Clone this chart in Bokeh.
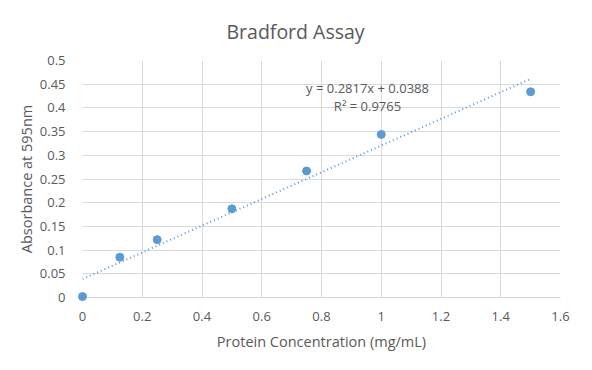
from bokeh.plotting import figure
from bokeh.models import FixedTicker, Range1d, Label, Title
from bokeh.embed import file_html
from bokeh.resources import INLINE

conc = [0, 0.125, 0.25, 0.5, 0.75, 1.0, 1.5]
absorb = [0.002, 0.085, 0.122, 0.187, 0.267, 0.344, 0.434]
slope = 0.2817
intercept = 0.0388
r2 = 0.9765
x_ticks = [0, 0.2, 0.4, 0.6, 0.8, 1.0, 1.2, 1.4, 1.6]
x_labels = ["0", "0.2", "0.4", "0.6", "0.8", "1", "1.2", "1.4", "1.6"]
y_ticks = [0, 0.05, 0.1, 0.15, 0.2, 0.25, 0.3, 0.35, 0.4, 0.45, 0.5]
y_labels = ["0", "0.05", "0.1", "0.15", "0.2", "0.25", "0.3", "0.35", "0.4", "0.45", "0.5"]
title = "Bradford Assay"

FONT = "Open Sans"
GREY = "#595959"
BLUE = "#5B9BD5"

p = figure(width=584, height=362, output_backend="svg", toolbar_location=None,
           x_range=Range1d(0, 1.6), y_range=Range1d(0, 0.5),
           min_border_left=82, min_border_right=24, min_border_top=60, min_border_bottom=65)
p.outline_line_color = None

p.add_layout(Title(text=title, align="left", text_font=FONT, text_font_size="19.5px",
                   text_color=GREY, text_font_style="normal", offset=144, standoff=31), "above")

p.xaxis.ticker = FixedTicker(ticks=x_ticks)
p.yaxis.ticker = FixedTicker(ticks=y_ticks)
p.xaxis.major_label_overrides = {t: l for t, l in zip(x_ticks, x_labels)}
p.yaxis.major_label_overrides = {t: l for t, l in zip(y_ticks, y_labels)}
for ax in (p.xaxis, p.yaxis):
    ax.major_tick_line_color = None
    ax.minor_tick_line_color = None
    ax.major_label_text_font = FONT
    ax.major_label_text_font_size = "13px"
    ax.major_label_text_color = GREY
    ax.axis_label_text_font = FONT
    ax.axis_label_text_font_size = "14.5px"
    ax.axis_label_text_color = GREY
    ax.axis_label_text_font_style = "normal"
p.yaxis.axis_line_color = None
p.xaxis.axis_line_color = "#D9D9D9"
p.xaxis.major_label_standoff = 8
p.yaxis.major_label_standoff = 11
p.xaxis.axis_label = "Protein Concentration (mg/mL)"
p.yaxis.axis_label = "Absorbance at 595nm"
p.xaxis.axis_label_standoff = 8
p.yaxis.axis_label_standoff = 1
p.xgrid.grid_line_color = "#D9D9D9"
p.ygrid.grid_line_color = "#D9D9D9"

tx = [min(conc), max(conc)]
ty = [slope * x + intercept for x in tx]
p.line(tx, ty, line_color=BLUE, line_width=2, line_dash="1 3")
p.scatter(conc, absorb, size=8, fill_color=BLUE, line_color=BLUE, level="overlay")

p.add_layout(Label(x=0.954, y=0.443, text=f"y = {slope}x + {intercept}", text_font=FONT,
                   text_font_size="13px", text_color=GREY, text_align="center", text_baseline="middle"))
p.add_layout(Label(x=0.954, y=0.405, text=f"R² = {r2}", text_font=FONT,
                   text_font_size="13px", text_color=GREY, text_align="center", text_baseline="middle"))

open("out.html", "w").write(file_html(p, INLINE))
